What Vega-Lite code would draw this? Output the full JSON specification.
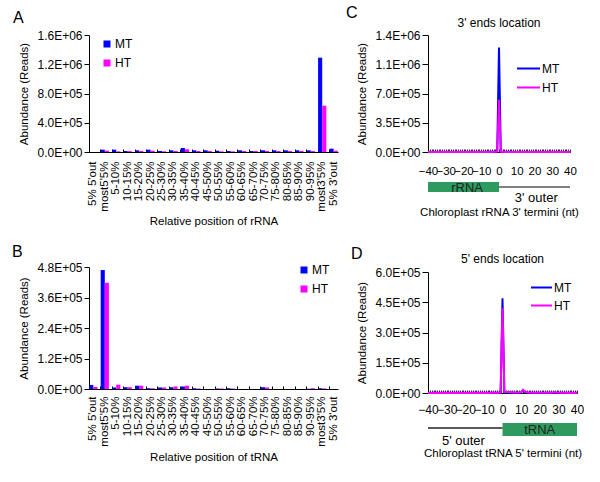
{
  "$schema": "https://vega.github.io/schema/vega-lite/v6.json",
  "padding": {"left": 11, "top": 5, "right": 0, "bottom": 0},
  "background": "white",
  "config": {
    "font": "Liberation Sans",
    "view": {"stroke": null},
    "axis": {"labelFont": "Liberation Sans", "titleFont": "Liberation Sans", "labelFontSize": 12, "titleFontSize": 11.5, "titleFontWeight": "normal", "labelColor": "#000", "titleColor": "#000", "domainColor": "#000", "tickColor": "#000", "grid": false},
    "legend": {"labelFont": "Liberation Sans", "labelFontSize": 12, "labelColor": "#000"},
    "title": {"font": "Liberation Sans", "fontWeight": "normal", "color": "#000"}
  },
  "datasets": {
    "rrna": [
      {"pos": "5% 5'out", "MT": 0, "HT": 0},
      {"pos": "most5'5%", "MT": 32000, "HT": 18000},
      {"pos": "5-10%", "MT": 32000, "HT": 9000},
      {"pos": "10-15%", "MT": 14000, "HT": 12000},
      {"pos": "15-20%", "MT": 23000, "HT": 14000},
      {"pos": "20-25%", "MT": 32000, "HT": 18000},
      {"pos": "25-30%", "MT": 14000, "HT": 9000},
      {"pos": "30-35%", "MT": 23000, "HT": 14000},
      {"pos": "35-40%", "MT": 55000, "HT": 37000},
      {"pos": "40-45%", "MT": 23000, "HT": 14000},
      {"pos": "45-50%", "MT": 23000, "HT": 14000},
      {"pos": "50-55%", "MT": 18000, "HT": 9000},
      {"pos": "55-60%", "MT": 14000, "HT": 9000},
      {"pos": "60-65%", "MT": 23000, "HT": 14000},
      {"pos": "65-70%", "MT": 14000, "HT": 14000},
      {"pos": "70-75%", "MT": 23000, "HT": 14000},
      {"pos": "75-80%", "MT": 23000, "HT": 14000},
      {"pos": "80-85%", "MT": 23000, "HT": 14000},
      {"pos": "85-90%", "MT": 23000, "HT": 14000},
      {"pos": "90-95%", "MT": 23000, "HT": 14000},
      {"pos": "most3'5%", "MT": 1290000, "HT": 633000},
      {"pos": "5% 3'out", "MT": 45000, "HT": 18000}
    ],
    "trna": [
      {"pos": "5% 5'out", "MT": 16000, "HT": 8000},
      {"pos": "most5'5%", "MT": 468000, "HT": 418000},
      {"pos": "5-10%", "MT": 6000, "HT": 17000},
      {"pos": "10-15%", "MT": 7000, "HT": 7000},
      {"pos": "15-20%", "MT": 13000, "HT": 13000},
      {"pos": "20-25%", "MT": 3000, "HT": 3000},
      {"pos": "25-30%", "MT": 6000, "HT": 6000},
      {"pos": "30-35%", "MT": 7000, "HT": 10000},
      {"pos": "35-40%", "MT": 10000, "HT": 13000},
      {"pos": "40-45%", "MT": 3000, "HT": 2000},
      {"pos": "45-50%", "MT": 0, "HT": 0},
      {"pos": "50-55%", "MT": 2000, "HT": 2000},
      {"pos": "55-60%", "MT": 3000, "HT": 2000},
      {"pos": "60-65%", "MT": 0, "HT": 0},
      {"pos": "65-70%", "MT": 0, "HT": 0},
      {"pos": "70-75%", "MT": 7000, "HT": 6000},
      {"pos": "75-80%", "MT": 0, "HT": 0},
      {"pos": "80-85%", "MT": 0, "HT": 0},
      {"pos": "85-90%", "MT": 0, "HT": 0},
      {"pos": "90-95%", "MT": 1000, "HT": 3000},
      {"pos": "most3'5%", "MT": 3000, "HT": 2000},
      {"pos": "5% 3'out", "MT": 0, "HT": 0}
    ],
    "c3": [
      {"x": -40, "MT": 1200, "HT": 700}, {"x": -39, "MT": 1500, "HT": 900}, {"x": -38, "MT": 1100, "HT": 600},
      {"x": -37, "MT": 1800, "HT": 1000}, {"x": -36, "MT": 1300, "HT": 800}, {"x": -35, "MT": 1600, "HT": 900},
      {"x": -34, "MT": 1200, "HT": 700}, {"x": -33, "MT": 1400, "HT": 800}, {"x": -32, "MT": 1900, "HT": 1100},
      {"x": -31, "MT": 1300, "HT": 700}, {"x": -30, "MT": 1500, "HT": 900}, {"x": -29, "MT": 1700, "HT": 1000},
      {"x": -28, "MT": 1200, "HT": 600}, {"x": -27, "MT": 1400, "HT": 800}, {"x": -26, "MT": 1600, "HT": 900},
      {"x": -25, "MT": 1300, "HT": 700}, {"x": -24, "MT": 1800, "HT": 1000}, {"x": -23, "MT": 1500, "HT": 800},
      {"x": -22, "MT": 1200, "HT": 700}, {"x": -21, "MT": 1600, "HT": 900}, {"x": -20, "MT": 1400, "HT": 800},
      {"x": -19, "MT": 1700, "HT": 1000}, {"x": -18, "MT": 1300, "HT": 700}, {"x": -17, "MT": 1500, "HT": 900},
      {"x": -16, "MT": 1900, "HT": 1100}, {"x": -15, "MT": 1400, "HT": 800}, {"x": -14, "MT": 1600, "HT": 900},
      {"x": -13, "MT": 1200, "HT": 700}, {"x": -12, "MT": 1800, "HT": 1000}, {"x": -11, "MT": 1500, "HT": 800},
      {"x": -10, "MT": 1700, "HT": 900}, {"x": -9, "MT": 1400, "HT": 800}, {"x": -8, "MT": 2000, "HT": 1100},
      {"x": -7, "MT": 1600, "HT": 900}, {"x": -6, "MT": 1800, "HT": 1000}, {"x": -5, "MT": 2200, "HT": 1200},
      {"x": -4, "MT": 2500, "HT": 1400}, {"x": -3, "MT": 3000, "HT": 1700}, {"x": -2, "MT": 4500, "HT": 2500},
      {"x": -1, "MT": 9000, "HT": 5000}, {"x": 0, "MT": 1250000, "HT": 625000}, {"x": 1, "MT": 7000, "HT": 3500},
      {"x": 2, "MT": 3500, "HT": 1800}, {"x": 3, "MT": 2500, "HT": 1300}, {"x": 4, "MT": 2000, "HT": 1000},
      {"x": 5, "MT": 1800, "HT": 900}, {"x": 6, "MT": 1600, "HT": 800}, {"x": 7, "MT": 1900, "HT": 1000},
      {"x": 8, "MT": 1400, "HT": 700}, {"x": 9, "MT": 1700, "HT": 900}, {"x": 10, "MT": 1300, "HT": 800},
      {"x": 11, "MT": 1500, "HT": 700}, {"x": 12, "MT": 1800, "HT": 1000}, {"x": 13, "MT": 1200, "HT": 600},
      {"x": 14, "MT": 1600, "HT": 900}, {"x": 15, "MT": 1400, "HT": 800}, {"x": 16, "MT": 1700, "HT": 900},
      {"x": 17, "MT": 1300, "HT": 700}, {"x": 18, "MT": 1500, "HT": 800}, {"x": 19, "MT": 1900, "HT": 1000},
      {"x": 20, "MT": 1400, "HT": 700}, {"x": 21, "MT": 1600, "HT": 900}, {"x": 22, "MT": 1200, "HT": 700},
      {"x": 23, "MT": 1800, "HT": 1000}, {"x": 24, "MT": 1500, "HT": 800}, {"x": 25, "MT": 1300, "HT": 700},
      {"x": 26, "MT": 1700, "HT": 900}, {"x": 27, "MT": 1400, "HT": 800}, {"x": 28, "MT": 1600, "HT": 900},
      {"x": 29, "MT": 1200, "HT": 600}, {"x": 30, "MT": 1800, "HT": 1000}, {"x": 31, "MT": 1500, "HT": 800},
      {"x": 32, "MT": 1300, "HT": 700}, {"x": 33, "MT": 1700, "HT": 900}, {"x": 34, "MT": 1400, "HT": 800},
      {"x": 35, "MT": 1600, "HT": 900}, {"x": 36, "MT": 1200, "HT": 700}, {"x": 37, "MT": 1500, "HT": 800},
      {"x": 38, "MT": 1900, "HT": 1000}, {"x": 39, "MT": 1300, "HT": 700}, {"x": 40, "MT": 1500, "HT": 800}
    ],
    "d5": [
      {"x": -40, "MT": 700, "HT": 500}, {"x": -39, "MT": 900, "HT": 600}, {"x": -38, "MT": 600, "HT": 400},
      {"x": -37, "MT": 800, "HT": 700}, {"x": -36, "MT": 700, "HT": 500}, {"x": -35, "MT": 1000, "HT": 800},
      {"x": -34, "MT": 600, "HT": 500}, {"x": -33, "MT": 800, "HT": 600}, {"x": -32, "MT": 900, "HT": 700},
      {"x": -31, "MT": 700, "HT": 400}, {"x": -30, "MT": 800, "HT": 600}, {"x": -29, "MT": 1000, "HT": 800},
      {"x": -28, "MT": 600, "HT": 500}, {"x": -27, "MT": 700, "HT": 600}, {"x": -26, "MT": 900, "HT": 700},
      {"x": -25, "MT": 800, "HT": 500}, {"x": -24, "MT": 700, "HT": 600}, {"x": -23, "MT": 1000, "HT": 800},
      {"x": -22, "MT": 600, "HT": 400}, {"x": -21, "MT": 800, "HT": 700}, {"x": -20, "MT": 900, "HT": 600},
      {"x": -19, "MT": 700, "HT": 500}, {"x": -18, "MT": 800, "HT": 700}, {"x": -17, "MT": 600, "HT": 500},
      {"x": -16, "MT": 900, "HT": 800}, {"x": -15, "MT": 700, "HT": 500}, {"x": -14, "MT": 1000, "HT": 700},
      {"x": -13, "MT": 800, "HT": 600}, {"x": -12, "MT": 600, "HT": 400}, {"x": -11, "MT": 900, "HT": 700},
      {"x": -10, "MT": 800, "HT": 600}, {"x": -9, "MT": 700, "HT": 500}, {"x": -8, "MT": 1000, "HT": 800},
      {"x": -7, "MT": 800, "HT": 600}, {"x": -6, "MT": 900, "HT": 700}, {"x": -5, "MT": 1100, "HT": 900},
      {"x": -4, "MT": 1200, "HT": 1000}, {"x": -3, "MT": 1500, "HT": 1200}, {"x": -2, "MT": 2000, "HT": 1600},
      {"x": -1, "MT": 3000, "HT": 2500}, {"x": 0, "MT": 470000, "HT": 420000}, {"x": 1, "MT": 4000, "HT": 6000},
      {"x": 2, "MT": 3000, "HT": 5000}, {"x": 3, "MT": 2500, "HT": 4500}, {"x": 4, "MT": 2000, "HT": 4000},
      {"x": 5, "MT": 2000, "HT": 3500}, {"x": 6, "MT": 1500, "HT": 2500}, {"x": 7, "MT": 1400, "HT": 2000},
      {"x": 8, "MT": 1200, "HT": 1800}, {"x": 9, "MT": 1500, "HT": 2000}, {"x": 10, "MT": 3000, "HT": 4000},
      {"x": 11, "MT": 13000, "HT": 16000}, {"x": 12, "MT": 6000, "HT": 8000}, {"x": 13, "MT": 2500, "HT": 3500},
      {"x": 14, "MT": 1500, "HT": 2500}, {"x": 15, "MT": 1200, "HT": 2000}, {"x": 16, "MT": 1000, "HT": 1500},
      {"x": 17, "MT": 900, "HT": 1300}, {"x": 18, "MT": 1100, "HT": 1500}, {"x": 19, "MT": 800, "HT": 1200},
      {"x": 20, "MT": 900, "HT": 1100}, {"x": 21, "MT": 1000, "HT": 1300}, {"x": 22, "MT": 800, "HT": 1000},
      {"x": 23, "MT": 700, "HT": 900}, {"x": 24, "MT": 900, "HT": 1100}, {"x": 25, "MT": 800, "HT": 1200},
      {"x": 26, "MT": 1000, "HT": 1500}, {"x": 27, "MT": 1200, "HT": 2500}, {"x": 28, "MT": 1800, "HT": 5000},
      {"x": 29, "MT": 1000, "HT": 2000}, {"x": 30, "MT": 800, "HT": 1000}, {"x": 31, "MT": 700, "HT": 800},
      {"x": 32, "MT": 900, "HT": 900}, {"x": 33, "MT": 600, "HT": 700}, {"x": 34, "MT": 800, "HT": 800},
      {"x": 35, "MT": 700, "HT": 600}, {"x": 36, "MT": 900, "HT": 700}, {"x": 37, "MT": 600, "HT": 500},
      {"x": 38, "MT": 800, "HT": 700}, {"x": 39, "MT": 700, "HT": 600}, {"x": 40, "MT": 900, "HT": 800}
    ],
    "cdeco": [
      {"region": "rRNA", "start": -40, "end": 0},
      {"region": "3'  outer", "start": 0, "end": 40}
    ],
    "ddeco": [
      {"region": "5' outer", "start": -40, "end": 0},
      {"region": "tRNA", "start": 0, "end": 40}
    ]
  },
  "resolve": {"scale": {"color": "independent"}, "legend": {"color": "independent"}},
  "spacing": 6,
  "hconcat": [
    {
      "spacing": 17,
      "resolve": {"scale": {"color": "independent"}, "legend": {"color": "independent"}},
      "vconcat": [
        {
          "width": 249, "height": 117,
          "title": {"text": "A", "anchor": "start", "frame": "bounds", "fontSize": 16, "dx": -6, "offset": 3},
          "data": {"name": "rrna"},
          "transform": [{"fold": ["MT", "HT"], "as": ["series", "reads"]}],
          "mark": {"type": "bar"},
          "encoding": {
            "x": {"field": "pos", "type": "nominal", "sort": null, "scale": {"paddingInner": 0.28, "paddingOuter": 0.02},
              "axis": {"title": "Relative position of rRNA", "labelAngle": -90, "labelFontSize": 11.5, "bandPosition": 0, "tickSize": -3, "labelPadding": 12, "titlePadding": 4}},
            "xOffset": {"field": "series", "type": "nominal", "sort": ["MT", "HT"], "scale": {"paddingInner": 0}},
            "y": {"field": "reads", "type": "quantitative", "scale": {"domain": [0, 1600000], "nice": false},
              "axis": {"values": [0, 400000, 800000, 1200000, 1600000], "labelExpr": "replace(upper(format(datum.value, '.1e')), 'E+', 'E+0')", "title": "Abundance (Reads)", "tickSize": 5, "labelPadding": 2, "titlePadding": 7}},
            "color": {"field": "series", "type": "nominal", "scale": {"domain": ["MT", "HT"], "range": ["#0000ff", "#ff00ff"]},
              "legend": {"title": null, "orient": "none", "legendX": 12, "legendY": 3, "symbolType": "square", "symbolSize": 49, "rowPadding": 7, "labelOffset": 2}}
          }
        },
        {
          "width": 249, "height": 122,
          "title": {"text": "B", "anchor": "start", "frame": "bounds", "fontSize": 16, "dx": -7, "offset": 1},
          "data": {"name": "trna"},
          "transform": [{"fold": ["MT", "HT"], "as": ["series", "reads"]}],
          "mark": {"type": "bar"},
          "encoding": {
            "x": {"field": "pos", "type": "nominal", "sort": null, "scale": {"paddingInner": 0.28, "paddingOuter": 0.02},
              "axis": {"title": "Relative position of tRNA", "labelAngle": -90, "labelFontSize": 11.5, "bandPosition": 0, "tickSize": -3, "labelPadding": 10, "titlePadding": 5}},
            "xOffset": {"field": "series", "type": "nominal", "sort": ["MT", "HT"], "scale": {"paddingInner": 0}},
            "y": {"field": "reads", "type": "quantitative", "scale": {"domain": [0, 480000], "nice": false},
              "axis": {"values": [0, 120000, 240000, 360000, 480000], "labelExpr": "replace(upper(format(datum.value, '.1e')), 'E+', 'E+0')", "title": "Abundance (Reads)", "tickSize": 5, "labelPadding": 2, "titlePadding": 7}},
            "color": {"field": "series", "type": "nominal", "scale": {"domain": ["MT", "HT"], "range": ["#0000ff", "#ff00ff"]},
              "legend": {"title": null, "orient": "none", "legendX": 209, "legendY": -3, "symbolType": "square", "symbolSize": 49, "rowPadding": 7, "labelOffset": 2}}
          }
        }
      ]
    },
    {
      "spacing": 27,
      "resolve": {"scale": {"color": "independent"}, "legend": {"color": "independent"}},
      "vconcat": [
        {
          "title": {"text": "C", "anchor": "start", "frame": "bounds", "fontSize": 16, "dx": -11, "offset": 0, "dy": 4.5},
          "bounds": "flush",
          "spacing": 30,
          "resolve": {"scale": {"color": "independent"}, "legend": {"color": "independent"}},
          "vconcat": [
            {
              "width": 142, "height": 117,
              "title": {"text": "3' ends location", "fontSize": 12, "offset": -0.5},
              "data": {"name": "c3"},
              "transform": [{"fold": ["MT", "HT"], "as": ["series", "reads"]}],
              "encoding": {
                "x": {"field": "x", "type": "quantitative", "scale": {"domain": [-40, 40], "nice": false},
                  "axis": {"title": null, "values": [-40,-39,-38,-37,-36,-35,-34,-33,-32,-31,-30,-29,-28,-27,-26,-25,-24,-23,-22,-21,-20,-19,-18,-17,-16,-15,-14,-13,-12,-11,-10,-9,-8,-7,-6,-5,-4,-3,-2,-1,0,1,2,3,4,5,6,7,8,9,10,11,12,13,14,15,16,17,18,19,20,21,22,23,24,25,26,27,28,29,30,31,32,33,34,35,36,37,38,39,40],
                    "labelExpr": "datum.value % 10 === 0 ? datum.label : ''", "labelFontSize": 11.5, "tickSize": -3, "tickColor": "#333", "labelPadding": 16, "labelFlush": false, "labelOverlap": false}},
                "y": {"field": "reads", "type": "quantitative", "scale": {"domain": [0, 1400000], "nice": false},
                  "axis": {"values": [0, 350000, 700000, 1050000, 1400000], "labelExpr": "replace(upper(format(datum.value, '.1e')), 'E+', 'E+0')", "title": "Abundance (Reads)", "tickSize": 6, "labelPadding": 2, "titlePadding": 7}},
                "color": {"field": "series", "type": "nominal", "scale": {"domain": ["MT", "HT"], "range": ["#0000ff", "#ff00ff"]},
                  "legend": {"title": null, "orient": "none", "legendX": 88, "legendY": 21, "symbolSize": 529, "symbolStrokeWidth": 2, "rowPadding": -5, "labelOffset": 1}}
              },
              "layer": [
                {"transform": [{"filter": "datum.series === 'MT'"}], "mark": {"type": "line", "strokeWidth": 2}},
                {"transform": [{"filter": "datum.series === 'HT'"}], "mark": {"type": "line", "strokeWidth": 2}}
              ]
            },
            {
              "width": 142, "height": 22,
              "data": {"name": "cdeco"},
              "layer": [
                {
                  "transform": [{"filter": "datum.region === 'rRNA'"}],
                  "mark": {"type": "rect", "color": "#2e9a5e"},
                  "encoding": {
                    "x": {"field": "start", "type": "quantitative", "scale": {"domain": [-40, 40], "nice": false},
                      "axis": {"title": "Chloroplast rRNA 3' termini (nt)", "labels": false, "ticks": false, "domain": false, "titlePadding": 2}},
                    "x2": {"field": "end"},
                    "y": {"datum": 0, "type": "quantitative", "scale": {"domain": [-1.2, 1], "nice": false}, "axis": null},
                    "y2": {"datum": 1}
                  }
                },
                {
                  "transform": [{"filter": "datum.region !== 'rRNA'"}],
                  "mark": {"type": "rule", "color": "#808080", "strokeWidth": 2},
                  "encoding": {
                    "x": {"field": "start", "type": "quantitative"},
                    "x2": {"field": "end"},
                    "y": {"datum": 0.5, "type": "quantitative"}
                  }
                },
                {
                  "transform": [{"filter": "datum.region === 'rRNA'"}],
                  "mark": {"type": "text", "fontSize": 13, "color": "#222"},
                  "encoding": {
                    "x": {"datum": -18, "type": "quantitative"},
                    "y": {"datum": 0.45, "type": "quantitative"},
                    "text": {"field": "region"}
                  }
                },
                {
                  "transform": [{"filter": "datum.region !== 'rRNA'"}],
                  "mark": {"type": "text", "fontSize": 13, "color": "#000"},
                  "encoding": {
                    "x": {"datum": 21, "type": "quantitative"},
                    "y": {"datum": -0.6, "type": "quantitative"},
                    "text": {"field": "region"}
                  }
                }
              ]
            }
          ]
        },
        {
          "title": {"text": "D", "anchor": "start", "frame": "bounds", "fontSize": 16, "dx": -6, "offset": 0, "dy": 8.5},
          "bounds": "flush",
          "spacing": 30,
          "resolve": {"scale": {"color": "independent"}, "legend": {"color": "independent"}},
          "vconcat": [
            {
              "width": 149, "height": 121,
              "title": {"text": "5' ends location", "fontSize": 12, "offset": 0},
              "data": {"name": "d5"},
              "transform": [{"fold": ["MT", "HT"], "as": ["series", "reads"]}],
              "encoding": {
                "x": {"field": "x", "type": "quantitative", "scale": {"domain": [-40, 40], "nice": false},
                  "axis": {"title": null, "values": [-40,-39,-38,-37,-36,-35,-34,-33,-32,-31,-30,-29,-28,-27,-26,-25,-24,-23,-22,-21,-20,-19,-18,-17,-16,-15,-14,-13,-12,-11,-10,-9,-8,-7,-6,-5,-4,-3,-2,-1,0,1,2,3,4,5,6,7,8,9,10,11,12,13,14,15,16,17,18,19,20,21,22,23,24,25,26,27,28,29,30,31,32,33,34,35,36,37,38,39,40],
                    "labelExpr": "datum.value % 10 === 0 ? datum.label : ''", "tickSize": -3, "tickColor": "#333", "labelPadding": 14, "labelFlush": false, "labelOverlap": false}},
                "y": {"field": "reads", "type": "quantitative", "scale": {"domain": [0, 600000], "nice": false},
                  "axis": {"values": [0, 150000, 300000, 450000, 600000], "labelExpr": "replace(upper(format(datum.value, '.1e')), 'E+', 'E+0')", "title": "Abundance (Reads)", "tickSize": 6, "labelPadding": 2, "titlePadding": 7}},
                "color": {"field": "series", "type": "nominal", "scale": {"domain": ["MT", "HT"], "range": ["#0000ff", "#ff00ff"]},
                  "legend": {"title": null, "orient": "none", "legendX": 102, "legendY": 4, "symbolSize": 441, "symbolStrokeWidth": 2, "rowPadding": -2, "labelOffset": 1}}
              },
              "layer": [
                {"transform": [{"filter": "datum.series === 'MT'"}], "mark": {"type": "line", "strokeWidth": 2}},
                {"transform": [{"filter": "datum.series === 'HT'"}], "mark": {"type": "line", "strokeWidth": 2}}
              ]
            },
            {
              "width": 149, "height": 19,
              "data": {"name": "ddeco"},
              "layer": [
                {
                  "transform": [{"filter": "datum.region === 'tRNA'"}],
                  "mark": {"type": "rect", "color": "#2e9a5e"},
                  "encoding": {
                    "x": {"field": "start", "type": "quantitative", "scale": {"domain": [-40, 40], "nice": false},
                      "axis": {"title": "Chloroplast tRNA 5' termini (nt)", "labels": false, "ticks": false, "domain": false, "titlePadding": 5}},
                    "x2": {"field": "end"},
                    "y": {"datum": -0.3, "type": "quantitative", "scale": {"domain": [-0.9, 1], "nice": false}, "axis": null},
                    "y2": {"datum": 1}
                  }
                },
                {
                  "transform": [{"filter": "datum.region !== 'tRNA'"}],
                  "mark": {"type": "rule", "color": "#222", "strokeWidth": 1.5},
                  "encoding": {
                    "x": {"field": "start", "type": "quantitative"},
                    "x2": {"field": "end"},
                    "y": {"datum": 0.5, "type": "quantitative"}
                  }
                },
                {
                  "transform": [{"filter": "datum.region === 'tRNA'"}],
                  "mark": {"type": "text", "fontSize": 13, "color": "#222"},
                  "encoding": {
                    "x": {"datum": 20, "type": "quantitative"},
                    "y": {"datum": 0.35, "type": "quantitative"},
                    "text": {"field": "region"}
                  }
                },
                {
                  "transform": [{"filter": "datum.region !== 'tRNA'"}],
                  "mark": {"type": "text", "fontSize": 13, "color": "#000"},
                  "encoding": {
                    "x": {"datum": -21, "type": "quantitative"},
                    "y": {"datum": -0.75, "type": "quantitative"},
                    "text": {"field": "region"}
                  }
                }
              ]
            }
          ]
        }
      ]
    }
  ]
}
